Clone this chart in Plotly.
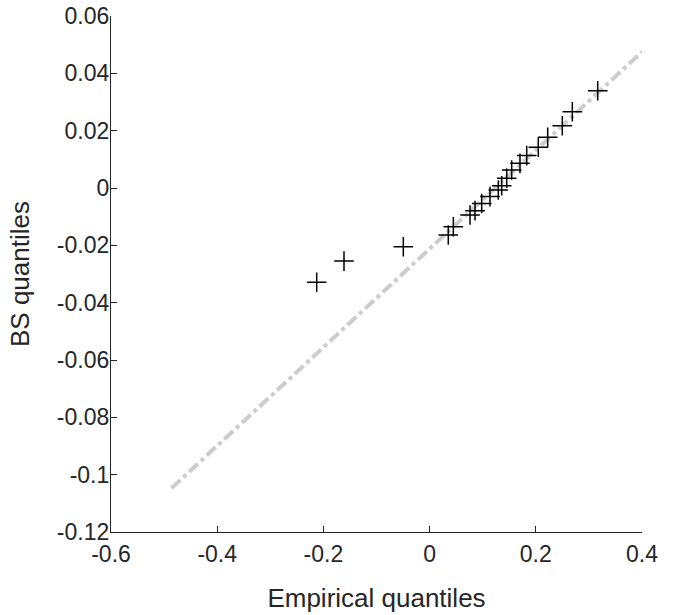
import plotly.graph_objects as go

# Data (QQ plot)
emp_q = [-0.2126, -0.1612, -0.0495, 0.0352, 0.0447, 0.0761, 0.0855, 0.0981, 0.1137,
         0.1294, 0.1358, 0.1452, 0.1546, 0.1702, 0.1829, 0.2047, 0.2224, 0.2499,
         0.2688, 0.3166]
bs_q = [-0.0329, -0.0255, -0.0205, -0.0164, -0.0135, -0.0094, -0.0079, -0.0054, -0.0030,
        -0.0007, 0.0008, 0.0034, 0.0063, 0.0086, 0.0113, 0.0142, 0.0177, 0.0217,
        0.0266, 0.0339]
ref_x = [-0.486, 0.4]
ref_y = [-0.1047, 0.0475]

x_ticks = [-0.6, -0.4, -0.2, 0, 0.2, 0.4]
x_ticktext = ["-0.6", "-0.4", "-0.2", "0", "0.2", "0.4"]
y_ticks = [-0.12, -0.1, -0.08, -0.06, -0.04, -0.02, 0, 0.02, 0.04, 0.06]
y_ticktext = ["-0.12", "-0.1", "-0.08", "-0.06", "-0.04", "-0.02", "0", "0.02", "0.04", "0.06"]

fig = go.Figure()
fig.add_trace(go.Scatter(x=ref_x, y=ref_y, mode="lines",
                         line=dict(color="#cccccc", width=4, dash="12px,4px,4px,4px"),
                         hoverinfo="skip", showlegend=False))
fig.add_trace(go.Scatter(x=emp_q, y=bs_q, mode="markers",
                         marker=dict(symbol="cross-thin", size=14, color="black",
                                     line=dict(color="black", width=1.5)),
                         showlegend=False))

font_family = "Liberation Sans, Arial, sans-serif"
fig.update_layout(
    width=675, height=615,
    margin=dict(l=111, r=33, t=16, b=83, autoexpand=False),
    paper_bgcolor="white", plot_bgcolor="white",
    font=dict(family=font_family, color="#262626", size=23),
    xaxis=dict(range=[-0.6, 0.4], tickvals=x_ticks, ticktext=x_ticktext,
               showgrid=False, zeroline=False, showline=True, linecolor="#262626",
               linewidth=1.2, ticks="inside", ticklen=6, tickcolor="#262626",
               automargin=False, ticklabeloverflow="allow", ticklabelstandoff=1,
               title=dict(text="Empirical quantiles", font=dict(size=26), standoff=23)),
    yaxis=dict(range=[-0.12, 0.06], tickvals=y_ticks, ticktext=y_ticktext,
               showgrid=False, zeroline=False, showline=True, linecolor="#262626",
               linewidth=1.2, ticks="inside", ticklen=6, tickcolor="#262626",
               automargin=False, ticklabeloverflow="allow", ticklabelstandoff=-4),
    annotations=[dict(text="BS quantiles", xref="paper", yref="paper", x=0, y=0.5,
                      xanchor="center", yanchor="middle", xshift=-91, textangle=-90,
                      showarrow=False, font=dict(size=26, color="#262626"))],
)

fig.write_html("out.html", config={"displayModeBar": False},
               post_script="document.body.style.margin='0';")
